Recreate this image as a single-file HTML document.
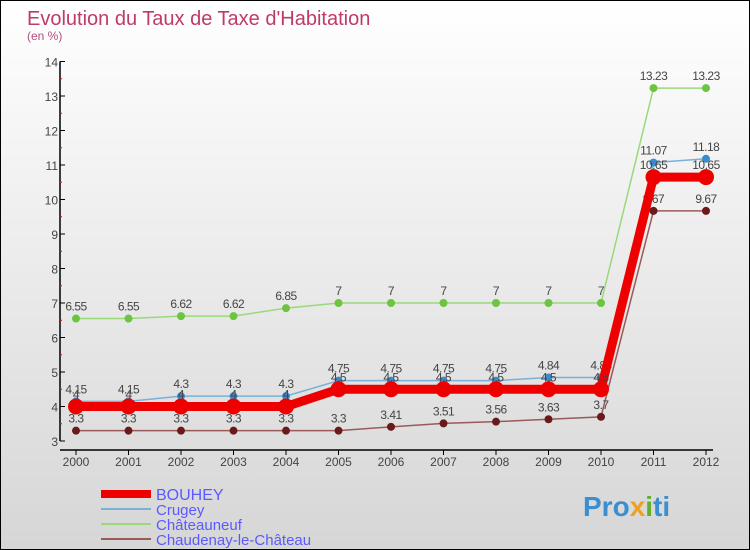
<!DOCTYPE html>
<html><head><meta charset="utf-8"><style>
html,body{margin:0;padding:0}
body{width:750px;height:550px;overflow:hidden;font-family:"Liberation Sans",sans-serif}
#wrap{position:relative;width:748px;height:548px;border:1px solid #000;background:linear-gradient(#fff,#d6d6d6)}
</style></head><body>
<div id="wrap">
<svg id="chart" width="748" height="548" style="position:absolute;left:0;top:0">
<text x="26" y="24" font-size="20" fill="#c0396b">Evolution du Taux de Taxe d'Habitation</text>
<text x="26" y="39" font-size="12" fill="#b05080">(en %)</text>
<g id="axes"></g>
<g id="series"></g>
<g id="legend"></g>
<text x="582" y="515" font-size="28" font-weight="bold" fill="#3a8fd0">Pro<tspan fill="#f0a020">x</tspan><tspan fill="#60b030">i</tspan>ti</text>
</svg>
</div>
<script>
const years=["2000","2001","2002","2003","2004","2005","2006","2007","2008","2009","2010","2011","2012"];
const bouhey=[4,4,4,4,4,4.5,4.5,4.5,4.5,4.5,4.5,10.65,10.65];
const crugey=[4.15,4.15,4.3,4.3,4.3,4.75,4.75,4.75,4.75,4.84,4.84,11.07,11.18];
const chateauneuf=[6.55,6.55,6.62,6.62,6.85,7,7,7,7,7,7,13.23,13.23];
const chaudenay=[3.3,3.3,3.3,3.3,3.3,3.3,3.41,3.51,3.56,3.63,3.7,9.67,9.67];
const yTicks=[3,4,5,6,7,8,9,10,11,12,13,14];
const NS="http://www.w3.org/2000/svg";
const x=i=>75+i*52.5;
const y=v=>440-(v-3)*34.5;
function mk(tag,attrs,parent){const e=document.createElementNS(NS,tag);for(const k in attrs)e.setAttribute(k,attrs[k]);parent.appendChild(e);return e;}
const ax=document.getElementById('axes');
let a=mk('line',{x1:59,y1:y(14),x2:59,y2:y(3),stroke:'#000','stroke-width':1.5},ax);


a=mk('line',{x1:59,y1:449,x2:712,y2:449,stroke:'#000','stroke-width':1.5},ax);


yTicks.forEach(v=>{
 mk('line',{x1:59,y1:y(v),x2:64,y2:y(v),stroke:'#000'},ax);
 if(v<14){mk('line',{x1:58,y1:y(v+0.5),x2:61,y2:y(v+0.5),stroke:'#e00'},ax);}
 const t=mk('text',{x:57,y:y(v)+5,'font-size':12,fill:'#444','text-anchor':'end'},ax);t.textContent=v;
 
 
});
years.forEach((yr,i)=>{
 mk('line',{x1:x(i),y1:449,x2:x(i),y2:454,stroke:'#000'},ax);
 const t=mk('text',{x:x(i),y:465,'font-size':12,fill:'#444','text-anchor':'middle'},ax);t.textContent=yr;
 
 
});
const sg=document.getElementById('series');
const defs=[
 {d:chateauneuf,c:'#99d97a',w:1.5,r:4,mc:'#6cc440',n:'chateauneuf'},
 {d:chaudenay,c:'#9a5a5a',w:1.5,r:4,mc:'#6a1a1a',n:'chaudenay'},
 {d:crugey,c:'#7ab0d8',w:1.5,r:4,mc:'#3a8ccc',n:'crugey'},
 {d:bouhey,c:'#ee0000',w:9,r:8,mc:'#ee0000',n:'bouhey'}
];
defs.forEach(s=>{
 const g=mk('g',{},sg);
 
 
 const p=mk('polyline',{points:s.d.map((v,i)=>x(i)+','+y(v)).join(' '),fill:'none',stroke:s.c,'stroke-width':s.w},g);
 
 
 s.d.forEach((v,i)=>{
  const c=mk('circle',{cx:x(i),cy:y(v),r:s.r,fill:s.mc},g);
  
  
  const t=mk('text',{x:x(i),y:y(v)-8,'font-size':12,fill:'#444','text-anchor':'middle','letter-spacing':'-0.5'},g);
  t.textContent=String(v);
  
  
 });
});
const lg=document.getElementById('legend');
const items=[['BOUHEY','#ee0000',8],['Crugey','#7ab0d8',2],['Châteauneuf','#99d97a',2],['Chaudenay-le-Château','#9a5a5a',2]];
items.forEach((it,k)=>{
 const yy=493+k*15;
 const g=mk('g',{},lg);
 
 
 mk('line',{x1:100,y1:yy,x2:150,y2:yy,stroke:it[1],'stroke-width':it[2]},g);
 const t=mk('text',{x:155,y:yy+6,'font-size':k==0?16:15,fill:'#5a5aff'},g);t.textContent=it[0];
});
</script>
</body></html>
